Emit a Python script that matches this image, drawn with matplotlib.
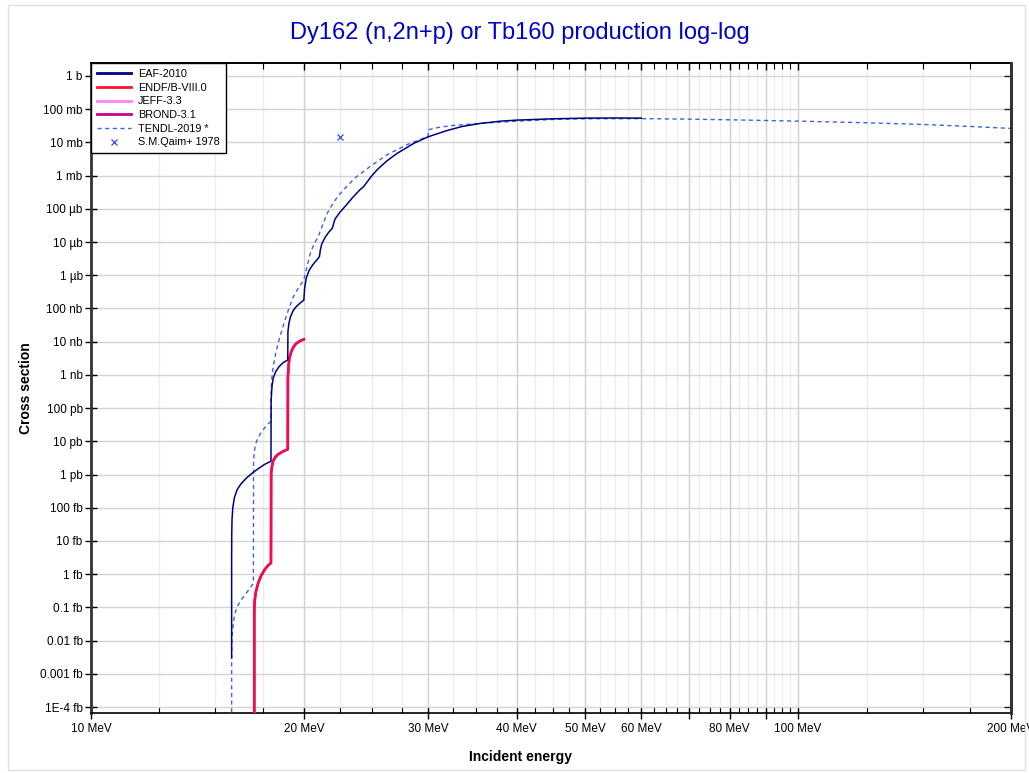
import numpy as np
import matplotlib.pyplot as plt
from matplotlib.ticker import FixedLocator, NullFormatter, NullLocator
from matplotlib.patches import Rectangle

plt.rcParams['font.family'] = ['Liberation Sans', 'DejaVu Sans']

#energies in MeV, cross sections as log10(barn)
eaf_e = [15.81, 15.81, 15.815, 15.83, 15.87, 15.95, 16.1, 16.3, 16.6, 16.95, 17.3, 17.65, 17.97,
         17.98, 18.03, 18.1, 18.25, 18.45, 18.7, 18.98,
         18.99, 19.05, 19.15, 19.3, 19.5, 19.75, 20.0, 20.05, 20.15, 20.35, 20.6, 20.9, 21.04, 21.1,
         21.2, 21.45, 21.7, 21.95, 22.05, 22.15, 22.5, 22.85, 23.4, 24.0, 24.3, 24.5, 24.9, 25.4,
         26.2, 27.1, 28.0, 28.6, 30.0, 31.8, 33.5, 35.5, 38.0, 40.0, 45.0, 50.0, 55.0, 60.0]
eaf_logxs = [-17.52, -14.5, -13.8, -13.35, -13.0, -12.7, -12.45, -12.28, -12.1, -11.94, -11.8, -11.68, -11.6,
             -9.75, -9.35, -9.1, -8.9, -8.75, -8.63, -8.55,
             -7.7, -7.45, -7.25, -7.08, -6.95, -6.84, -6.75, -6.4, -6.1, -5.85, -5.68, -5.52, -5.44, -5.25,
             -5.06, -4.85, -4.7, -4.58, -4.42, -4.3, -4.1, -3.94, -3.68, -3.43, -3.33, -3.23, -3.03, -2.82,
             -2.56, -2.33, -2.15, -2.03, -1.83, -1.65, -1.52, -1.43, -1.36, -1.33, -1.29, -1.27, -1.265, -1.27]

endf_e = [17.02, 17.02, 17.04, 17.1, 17.24, 17.4, 17.62, 17.8, 17.97,
          17.98, 18.04, 18.1, 18.25, 18.4, 18.7, 18.98,
          18.99, 19.03, 19.08, 19.2, 19.35, 19.5, 19.75, 20.0]
endf_logxs = [-21.0, -16.1, -15.8, -15.55, -15.26, -15.05, -14.85, -14.74, -14.66,
              -11.94, -11.72, -11.59, -11.46, -11.39, -11.3, -11.24,
              -9.05, -8.75, -8.5, -8.3, -8.15, -8.06, -7.98, -7.93]

tendl_e = [15.81, 15.81, 15.82, 15.85, 15.9, 15.97, 16.1, 16.3, 16.6, 16.8, 16.97,
           16.98, 17.03, 17.08, 17.2, 17.35, 17.55, 17.75, 17.97,
           17.98, 18.03, 18.1, 18.27, 18.5, 18.81, 19.05, 19.33, 19.65, 20.0, 20.2, 20.4, 20.65, 20.96,
           21.3, 21.6, 22.0, 22.35, 22.75, 23.6, 24.8, 26.2, 27.9, 29.0, 29.97,
           30.0, 31.0, 32.5, 35.5, 40.0, 45.0, 50.0, 60.0, 70.0, 80.0, 100.0, 125.0, 150.0, 175.0, 200.0]
tendl_logxs = [-21.0, -17.4, -17.0, -16.75, -16.45, -16.2, -15.98, -15.78, -15.56, -15.4, -15.28,
               -11.6, -11.3, -11.1, -10.93, -10.78, -10.63, -10.5, -10.4,
               -9.4, -9.05, -8.75, -8.3, -7.85, -7.35, -7.0, -6.65, -6.38, -6.14, -5.75, -5.38, -5.08, -4.84,
               -4.44, -4.12, -3.83, -3.62, -3.43, -3.08, -2.73, -2.38, -2.08, -1.94, -1.82,
               -1.62, -1.55, -1.49, -1.43, -1.36, -1.31, -1.29, -1.285, -1.30, -1.32, -1.36, -1.41, -1.46, -1.52, -1.58]

qaim_e = [22.5]
qaim_xs = [0.0145]

ytick_labels = ['1 b', '100 mb', '10 mb', '1 mb', '100 µb', '10 µb', '1 µb', '100 nb', '10 nb', '1 nb',
                '100 pb', '10 pb', '1 pb', '100 fb', '10 fb', '1 fb', '0.1 fb', '0.01 fb', '0.001 fb', '1E-4 fb']
xtick_major = [10, 20, 30, 40, 50, 60, 70, 80, 90, 100, 200]
xtick_labels = ['10 MeV', '20 MeV', '30 MeV', '40 MeV', '50 MeV', '60 MeV', '', '80 MeV', '', '100 MeV', '200 MeV']

eaf_xs = 10.0**np.array(eaf_logxs)
endf_xs = 10.0**np.array(endf_logxs)
tendl_xs = 10.0**np.array(tendl_logxs)

fig = plt.figure(figsize=(10.29, 7.73), dpi=100)
ax = fig.add_axes([0.0884, 0.0776, 0.8941, 0.8409])

#light frame around the figure
fig.patches.append(Rectangle((0.008, 0.004), 0.988, 0.99, transform=fig.transFigure, fill=False,
                             edgecolor='#e0e0e0', lw=1))

ax.plot(eaf_e, eaf_xs, color='#000080', lw=1.1, label='EAF-2010', zorder=4)
ax.plot(endf_e, endf_xs, color='#ff80ff', lw=2, label='JEFF-3.3', zorder=3)
ax.plot(endf_e, endf_xs, color='#cc0088', lw=1.8, label='BROND-3.1', zorder=3)
ax.plot(endf_e, endf_xs, color='#ff1030', lw=1.6, alpha=0.85, label='ENDF/B-VIII.0', zorder=3)
ax.plot(tendl_e, tendl_xs, color='#3c64dc', lw=1, ls=(0, (3, 2.5)), label='TENDL-2019 *', zorder=3)
ax.plot(qaim_e, qaim_xs, ls='none', marker='x', ms=5, mew=0.9, color='#3a4ae6', label='S.M.Qaim+ 1978', zorder=5)

ax.set_xscale('log')
ax.set_yscale('log')
ax.set_xlim(10, 200)
ax.set_ylim(10**-19.18, 10**0.39)

#x ticks
minor = [v for v in np.arange(12.5, 100, 2.5) if v % 10 != 0] + [125, 150, 175]
ax.xaxis.set_major_locator(FixedLocator(xtick_major))
ax.set_xticklabels(xtick_labels)
ax.xaxis.set_minor_locator(FixedLocator(minor))
ax.xaxis.set_minor_formatter(NullFormatter())
ax.tick_params(axis='x', which='major', direction='inout', length=9, width=1, top=False, labelsize=8.5, pad=3)
ax.tick_params(axis='x', which='minor', direction='in', length=4, width=0.8, top=False)

#y ticks
yt = [10.0**(-k) for k in range(20)]
ax.yaxis.set_major_locator(FixedLocator(yt))
ax.set_yticklabels(ytick_labels)
ax.yaxis.set_minor_locator(NullLocator())
ax.tick_params(axis='y', which='major', direction='inout', length=8, width=1, right=False, labelsize=8.5, pad=2)

#inward ticks on the top and right side
top = ax.secondary_xaxis('top')
top.xaxis.set_major_locator(FixedLocator(xtick_major))
top.xaxis.set_minor_locator(FixedLocator(minor))
top.xaxis.set_major_formatter(NullFormatter())
top.xaxis.set_minor_formatter(NullFormatter())
top.tick_params(which='major', direction='in', length=5, width=1, color='black')
top.tick_params(which='minor', direction='in', length=4, width=0.8, color='black')
top.spines['top'].set_linewidth(1.2)
top.set_zorder(6)

right = ax.secondary_yaxis('right')
right.yaxis.set_major_locator(FixedLocator(yt))
right.yaxis.set_minor_locator(NullLocator())
right.yaxis.set_major_formatter(NullFormatter())
right.tick_params(which='major', direction='in', length=5, width=1, color='#222222')
right.spines['right'].set_linewidth(2)
right.spines['right'].set_color('#333333')
right.set_zorder(6)

#grid
ax.grid(axis='y', which='major', color='#d4d4d4', lw=1, zorder=0)
ax.grid(axis='x', which='major', color='#d0d0d0', lw=1, zorder=0)
ax.grid(axis='x', which='minor', color='#ececec', lw=1, zorder=0)
ax.set_axisbelow(True)

for s in ['left', 'right']:
	ax.spines[s].set_linewidth(2)
	ax.spines[s].set_color('#333333')
for s in ['top', 'bottom']:
	ax.spines[s].set_linewidth(1.2)
	ax.spines[s].set_color('black')

#legend in same order as reference
h, l = ax.get_legend_handles_labels()
order = ['EAF-2010', 'ENDF/B-VIII.0', 'JEFF-3.3', 'BROND-3.1', 'TENDL-2019 *', 'S.M.Qaim+ 1978']
hd = dict(zip(l, h))
leg = ax.legend([hd[k] for k in order], order, loc='upper left', bbox_to_anchor=(0, 1), borderaxespad=0,
                fancybox=False, edgecolor='black', framealpha=1, fontsize=7.8, handlelength=3.1,
                labelspacing=0.34, borderpad=0.55, handletextpad=0.7)
leg.get_frame().set_linewidth(1)
leg.set_zorder(10)
for ln in leg.get_lines()[:4]:
	ln.set_linewidth(2)
	ln.set_alpha(1)

fig.text(0.505, 0.957, 'Dy162 (n,2n+p) or Tb160 production log-log', ha='center', va='center',
         color='#0000cc', fontsize=17)
fig.text(0.506, 0.021, 'Incident energy', ha='center', va='center', fontsize=10, fontweight='bold')
fig.text(0.025, 0.498, 'Cross section', ha='center', va='center', rotation=90, fontsize=10, fontweight='bold')

plt.savefig('out.png', dpi=100)
